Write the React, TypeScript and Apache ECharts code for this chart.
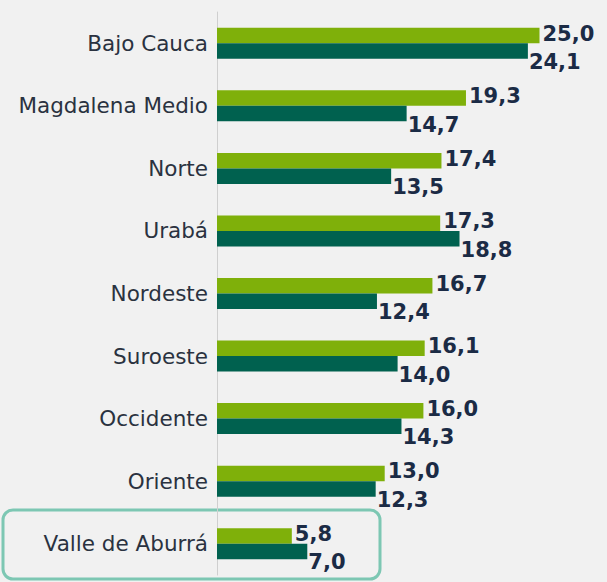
import React, { useEffect, useRef } from "react";
import * as echarts from "echarts";

const categories = [
  "Bajo Cauca",
  "Magdalena Medio",
  "Norte",
  "Urabá",
  "Nordeste",
  "Suroeste",
  "Occidente",
  "Oriente",
  "Valle de Aburrá",
];
const seriesLight = [25.0, 19.3, 17.4, 17.3, 16.7, 16.1, 16.0, 13.0, 5.8];
const seriesDark = [24.1, 14.7, 13.5, 18.8, 12.4, 14.0, 14.3, 12.3, 7.0];

const fmt = (v: number) => v.toFixed(1).replace(".", ",");

export default function App() {
  const ref = useRef<HTMLDivElement>(null);
  useEffect(() => {
    if (!ref.current) return;
    const chart = echarts.init(ref.current, null, { renderer: "svg" });
    const labelBase = {
      show: true,
      position: "right" as const,
      fontFamily: "DejaVu Sans",
      fontWeight: "bold" as const,
      fontSize: 21,
      color: "#1b2b45",
      formatter: (p: any) => fmt(p.value),
    };
    chart.setOption({
      animation: false,
      backgroundColor: "#f1f1f1",
      grid: { left: 217, right: 3, top: 12, bottom: 7, containLabel: false },
      xAxis: {
        type: "value",
        min: 0,
        max: 30,
        show: false,
      },
      yAxis: {
        type: "category",
        data: categories,
        inverse: true,
        axisLine: { show: true, lineStyle: { color: "#cfcfcf", width: 1 } },
        axisTick: { show: false },
        axisLabel: {
          fontFamily: "DejaVu Sans",
          fontSize: 21.5,
          color: "#2a3240",
          margin: 9,
        },
      },
      graphic: [
        {
          type: "rect",
          shape: { x: 3, y: 510, width: 377, height: 69, r: 10 },
          style: { fill: "transparent", stroke: "#7dc7b3", lineWidth: 3 },
          z: 0,
        },
      ],
      series: [
        {
          type: "bar",
          data: seriesLight,
          barWidth: 15.5,
          barGap: "0%",
          itemStyle: { color: "#7fb00a" },
          label: { ...labelBase, distance: 3, offset: [0, -2] },
        },
        {
          type: "bar",
          data: seriesDark,
          barWidth: 15.5,
          itemStyle: { color: "#00614f" },
          label: { ...labelBase, distance: 1, offset: [0, 11] },
        },
      ],
    });
    return () => chart.dispose();
  }, []);
  return <div ref={ref} style={{ width: 607, height: 582, position: "absolute", left: 0, top: 0 }} />;
}
